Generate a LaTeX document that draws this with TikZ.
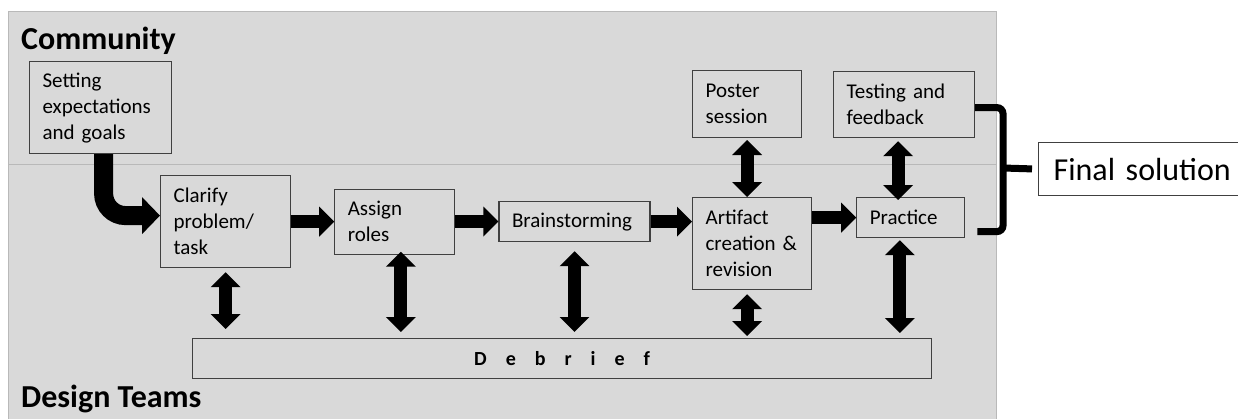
\documentclass[tikz,border=0pt]{standalone}
\usepackage{fontspec}
\setmainfont{Carlito}
\usepackage{tikz}
\usepackage{xcolor}
\usetikzlibrary{arrows.meta,positioning}

\definecolor{panelgray}{HTML}{D9D9D9}
\definecolor{boxline}{HTML}{404040}

\begin{document}
\begin{tikzpicture}[
    x = 1pt, y = -1pt,
    stage/.style = {draw=boxline, line width=1.2pt, fill=panelgray, anchor=north west,
                    align=left, inner xsep=13pt, inner ysep=0pt,
                    font=\fontsize{21}{26}\selectfont},
    flow/.style = {line width=13pt, -{Triangle[width=29pt,length=15pt]}},
    twoway/.style = {line width=13pt,
                     {Triangle[width=29pt,length=15pt]}-{Triangle[width=29pt,length=15pt]}},
    bracketline/.style = {line width=7pt, rounded corners=6pt},
    title/.style = {anchor=base west, inner sep=0pt,
                    font=\fontsize{32}{38}\selectfont\bfseries},
  ]

    \useasboundingbox (0,0) rectangle (1238,418);
    \clip (0,0) rectangle (1238,418);
    \fill[white] (0,0) rectangle (1238,418);

    % the two zones
    \draw[draw=gray!55, fill=panelgray, line width=1pt] (8,11) rectangle (996,430);
    \draw[gray!55, line width=1pt] (8,164) -- (996,164);
    \node[title] (community) at (21,49) {Community};
    \node[title] (teams) at (21,407) {Design Teams};

    \node[stage, text width=116pt, minimum height=92pt] (goals) at (29,61)
        {Setting\\expectations\\and goals};
    \node[stage, text width=104pt, minimum height=92pt] (clarify) at (160,175)
        {Clarify\\problem/\\task};
    \node[stage, text width=94pt, minimum height=65pt] (assign) [right=43pt of clarify]
        {Assign\\roles};
    \node[stage, text width=125pt, minimum height=40pt] (brain) [right=43pt of assign]
        {Brainstorming};
    \node[stage, text width=93pt, minimum height=92pt] (artifact) at (692,197)
        {Artifact\\creation \&\\revision};
    \node[stage, text width=82pt, minimum height=40pt] (practice)
        [right=44pt of artifact.north east, anchor=north west] {Practice};
    \node[stage, text width=83pt, minimum height=67pt] (poster)
        [above=59pt of artifact.north west, anchor=south west] {Poster\\session};
    \node[stage, text width=115pt, minimum height=66pt] (testing) at (833,71)
        {Testing and\\feedback};
    \node[stage, text width=713pt, minimum height=40pt, align=center,
          font=\fontsize{20}{24}\selectfont\bfseries] (debrief) at (192,338)
        {D\hskip19pt e\hskip19pt b\hskip19pt r\hskip19pt i\hskip19pt e\hskip19pt f};
    \node[stage, fill=white, inner xsep=15pt, text width=190pt, minimum height=53pt,
          font=\fontsize{32}{38}\selectfont] (final) at (1038,142) {Final solution};

    % main flow
    \draw[flow, line width=19pt, -{Triangle[width=36pt,length=18pt]}, rounded corners=22pt]
        ([xshift=3pt]goals.south) |- ([yshift=6pt]clarify.west);
    \draw[flow] (clarify) -- (assign);
    \draw[flow] (assign) -- (brain);
    \draw[flow] (brain.east) -- (brain.east -| artifact.west);
    \draw[flow] (artifact.east |- practice) -- (practice.west);

    % links to the debrief and the community
    \draw[twoway, shorten <=4pt, shorten >=9pt] (clarify.south) -- (clarify.south |- debrief.north);
    \draw[twoway, shorten <=-3pt, shorten >=6pt] ([xshift=6pt]assign.south)
        -- ([xshift=6pt]assign.south |- debrief.north);
    \draw[twoway, shorten <=9pt, shorten >=6pt] (brain.south) -- (brain.south |- debrief.north);
    \draw[twoway, shorten <=4pt, shorten >=2pt] (artifact.south -| poster.south)
        -- (poster.south |- debrief.north);
    \draw[twoway, shorten <=2pt] (poster.south) -- (poster.south |- artifact.north);
    \draw[twoway, shorten <=3pt, shorten >=-3pt] ([xshift=-6pt]testing.south)
        -- ([xshift=-6pt]testing.south |- practice.north);
    \draw[twoway, shorten <=2pt, shorten >=5pt] ([xshift=-11pt]practice.south)
        -- ([xshift=-11pt]practice.south |- debrief.north);

    % bracket to the final solution
    \coordinate (brk) at (1003,168);
    \draw[bracketline] ([yshift=-3pt]testing.east) -| (brk)
        |- ([xshift=12pt,yshift=-14pt]practice.east);
    \draw[bracketline, shorten >=6pt] (brk) -- (final.west);
\end{tikzpicture}
\end{document}
